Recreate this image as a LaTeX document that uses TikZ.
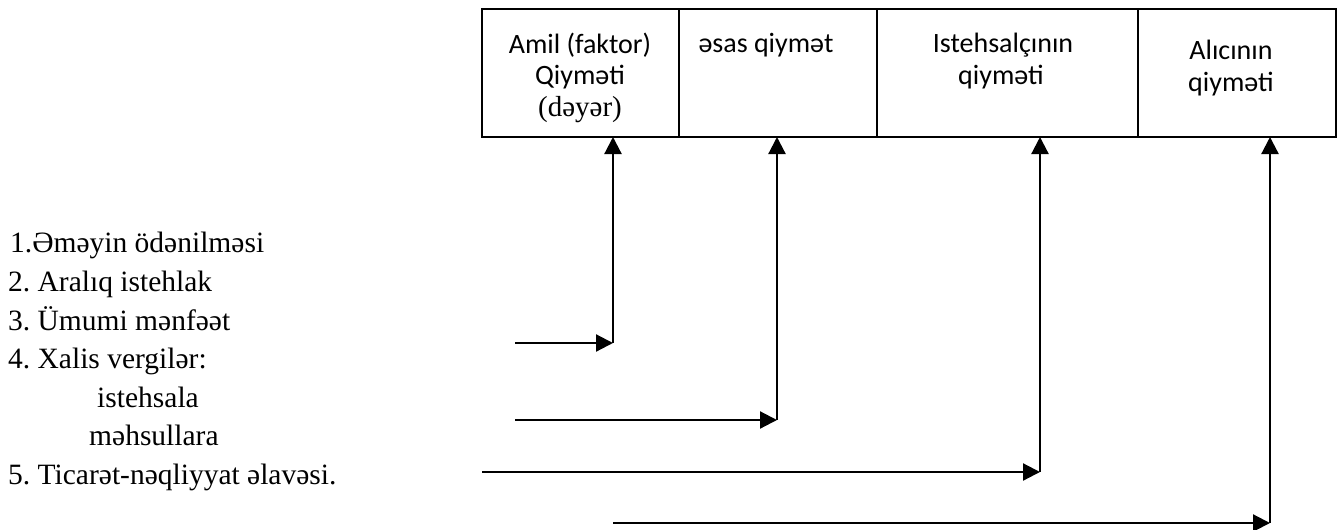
\documentclass[tikz,border=0pt]{standalone}
\usepackage{fontspec}
\setmainfont{Liberation Serif}
\newfontfamily\calfont{Carlito}
\newfontfamily\timesfont{Liberation Serif}
\usetikzlibrary{arrows.meta}
\frenchspacing
\begin{document}
\begin{tikzpicture}[x=1pt,y=-1pt,
  cell/.style={draw,line width=1.5pt,minimum height=128pt,anchor=north west,inner sep=0pt,outer sep=0pt},
  hd/.style={font=\calfont\fontsize{28}{34}\selectfont,inner sep=0pt},
  hdserif/.style={font=\timesfont\fontsize{29}{34}\selectfont,inner sep=0pt},
  lbl/.style={font=\timesfont\fontsize{29.5}{39}\selectfont,anchor=base west,inner sep=0pt},
  conn/.style={line width=2.2pt,-{Triangle[length=17pt,width=17pt]}},
  ]
\useasboundingbox (0,0) rectangle (1344,530);
% table cells
\node[cell,minimum width=197pt] (c1) at (482,9) {};
\node[cell,minimum width=198pt] (c2) at (679,9) {};
\node[cell,minimum width=261pt] (c3) at (877,9) {};
\node[cell,minimum width=198pt] (c4) at (1138,9) {};
% header texts
\node[hd] (t1a) at (580,45) {Amil (faktor)};
\node[hd] (t1b) at (580,77) {Qiyməti};
\node[hdserif] (t1c) at (580,110) {(dəyər)};
\node[hd] (t2) at (766,45) {əsas qiymət};
\node[hd] (t3a) at (1003,45) {Istehsalçının};
\node[hd] (t3b) at (1001,77) {qiyməti};
\node[hd] (t4a) at (1231,50) {Alıcının};
\node[hd] (t4b) at (1231,84) {qiyməti};
% left labels
\node[lbl] (l1) at (10,252) {1.Əməyin ödənilməsi};
\node[lbl] (l2) at (8,291) {2. Aralıq istehlak};
\node[lbl] (l3) at (8,330) {3. Ümumi mənfəət};
\node[lbl] (l4) at (8,368) {4. Xalis vergilər:};
\node[lbl] (l5) at (97,407) {istehsala};
\node[lbl] (l6) at (89,445) {məhsullara};
\node[lbl] (l7) at (8,484) {5. Ticarət-nəqliyyat əlavəsi.};
% connectors
\coordinate (s1) at (515,343); \coordinate (k1) at (613,343);
\coordinate (s2) at (515,420); \coordinate (k2) at (777,420);
\coordinate (s3) at (482,472); \coordinate (k3) at (1040,472);
\coordinate (s4) at (613,523); \coordinate (k4) at (1270,523);
\draw[conn] (s1) -- (k1);
\draw[conn] (k1) -- (k1 |- c1.south);
\draw[conn] (s2) -- (k2);
\draw[conn] (k2) -- (k2 |- c2.south);
\draw[conn] (s3) -- (k3);
\draw[conn] (k3) -- (k3 |- c3.south);
\draw[conn] (s4) -- (k4);
\draw[conn] (k4) -- (k4 |- c4.south);
\end{tikzpicture}
\end{document}
